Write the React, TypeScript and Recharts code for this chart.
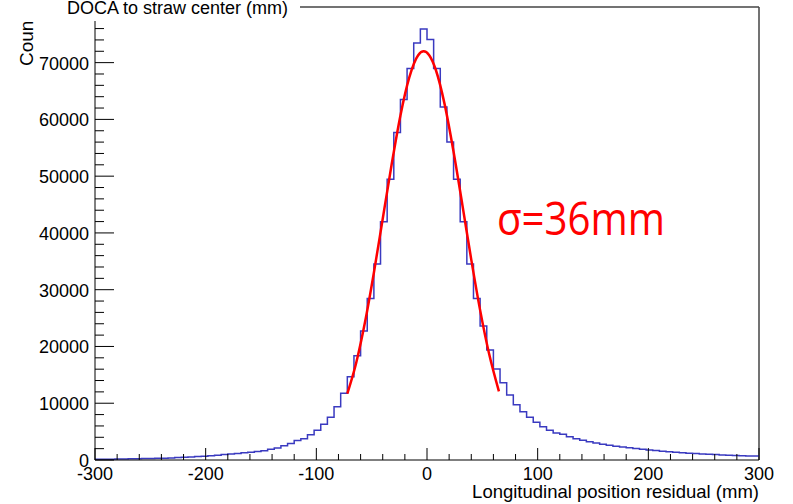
import { LineChart, Line, XAxis, YAxis, ReferenceLine } from "recharts";

// histogram: 100 bins of 6 mm from -300 to 300
const BIN_LOW = -300;
const BIN_WIDTH = 6;
const countsNeg = [
  130, 140, 150, 165, 180, 200, 220, 245, 270, 300, 330, 370, 420, 470, 530, 600, 680, 760, 850, 950,
  1050, 1150, 1270, 1350, 1480, 1640, 1880, 2110, 2520, 2920, 3450, 3750, 4450, 5250, 6280, 7550,
  9400, 11740, 14670, 18370, 22710, 28460, 34510, 41950, 49470, 57690, 63500, 68960, 73470, 75930,
];
const countsPos = [
  74070, 68960, 62200, 56040, 49470, 41950, 34510, 28460, 23590, 19370, 16020, 13610, 11440, 9750,
  8500, 7530, 6650, 5870, 5220, 4760, 4520, 4100, 3750, 3470, 3220, 2990, 2760, 2590, 2410, 2280,
  2150, 2020, 1890, 1770, 1660, 1560, 1460, 1370, 1280, 1200, 1130, 1060, 1000, 950, 900, 850, 800,
  760, 720, 690,
];

// gaussian fit
const fitX = [-72, -64, -56, -48, -40, -32, -24, -16, -8, -3, 2, 8, 16, 24, 32, 40, 48, 56, 65];
const fitY = [
  11700, 17100, 24300, 33000, 42500, 52000, 60700, 67400, 71300, 72000, 71300, 68700, 62600, 54300,
  44900, 35300, 26400, 18800, 12100,
];

const xMajor = [-300, -200, -100, 0, 100, 200, 300];
const yMajor = [0, 10000, 20000, 30000, 40000, 50000, 60000, 70000];
const X_MINOR_STEP = 20;
const Y_MINOR_STEP = 2000;
const Y_TOP = 79800;

const counts = [...countsNeg, ...countsPos];
const histData = counts.map((y, i) => ({ x: BIN_LOW + i * BIN_WIDTH, y }));
histData.push({ x: BIN_LOW + counts.length * BIN_WIDTH, y: counts[counts.length - 1] });
const fitData = fitX.map((x, i) => ({ x, y: fitY[i] }));

const xTicks: number[] = [];
for (let v = xMajor[0]; v <= xMajor[xMajor.length - 1]; v += X_MINOR_STEP) xTicks.push(v);
const yTicks: number[] = [];
for (let v = 0; v < Y_TOP; v += Y_MINOR_STEP) yTicks.push(v);

const FONT = '"Liberation Sans", Arial, sans-serif';

function XTick(props: any) {
  const { x, y, payload } = props;
  const major = xMajor.includes(payload.value);
  return (
    <g>
      <line x1={x} x2={x} y1={y} y2={y - (major ? 12 : 6)} stroke="#000" strokeWidth={1} />
      {major && (
        <text x={x} y={y + 20} textAnchor="middle" fontSize={18} fontFamily={FONT} fill="#000">
          {payload.value}
        </text>
      )}
    </g>
  );
}

function YTick(props: any) {
  const { x, y, payload } = props;
  const major = yMajor.includes(payload.value);
  return (
    <g>
      <line x1={x} x2={x + (major ? 19 : 9)} y1={y} y2={y} stroke="#000" strokeWidth={1} />
      {major && (
        <text x={x - 6} y={y + 7} textAnchor="end" fontSize={18} fontFamily={FONT} fill="#000">
          {payload.value}
        </text>
      )}
    </g>
  );
}

export default function App() {
  return (
    <div style={{ position: "absolute", left: 0, top: 0, width: 793, height: 504, background: "#fff" }}>
      <LineChart width={793} height={504} margin={{ top: 7, right: 34, bottom: 0, left: 0 }}>
        <XAxis
          type="number"
          dataKey="x"
          domain={[BIN_LOW, 300]}
          ticks={xTicks}
          interval={0}
          tick={<XTick />}
          tickLine={false}
          tickSize={0}
          tickMargin={0}
          height={44}
          stroke="#000"
          allowDataOverflow
        />
        <YAxis
          type="number"
          domain={[0, Y_TOP]}
          ticks={yTicks}
          interval={0}
          tick={<YTick />}
          tickLine={false}
          tickSize={0}
          tickMargin={0}
          width={95}
          stroke="#000"
          allowDataOverflow
        />
        <ReferenceLine y={Y_TOP} stroke="#444" strokeWidth={1.5} />
        <ReferenceLine x={300} stroke="#444" strokeWidth={1.5} />
        <Line
          data={histData}
          dataKey="y"
          type="stepAfter"
          stroke="#3a3ac0"
          strokeWidth={1.5}
          dot={false}
          isAnimationActive={false}
        />
        <Line
          data={fitData}
          dataKey="y"
          type="monotone"
          stroke="#ff0000"
          strokeWidth={2.5}
          dot={false}
          isAnimationActive={false}
        />
      </LineChart>
      <svg
        width={793}
        height={504}
        style={{ position: "absolute", left: 0, top: 0, pointerEvents: "none" }}
      >
        <text transform="translate(33,66) rotate(-90)" fontSize={19} fontFamily={FONT} fill="#000">
          Counts
        </text>
        <rect x={0} y={0} width={300} height={21} fill="#fff" />
        <text x={67} y={14} fontSize={18} fontFamily={FONT} fill="#000">
          DOCA to straw center (mm)
        </text>
        <text x={759} y={498} textAnchor="end" fontSize={18.5} fontFamily={FONT} fill="#000">
          Longitudinal position residual (mm)
        </text>
        <text
          x={497}
          y={235}
          fontSize={45}
          fontFamily='"Open Sans", sans-serif'
          fill="#ff0000"
          textLength={168}
          lengthAdjust="spacingAndGlyphs"
        >
          σ=36mm
        </text>
      </svg>
    </div>
  );
}
